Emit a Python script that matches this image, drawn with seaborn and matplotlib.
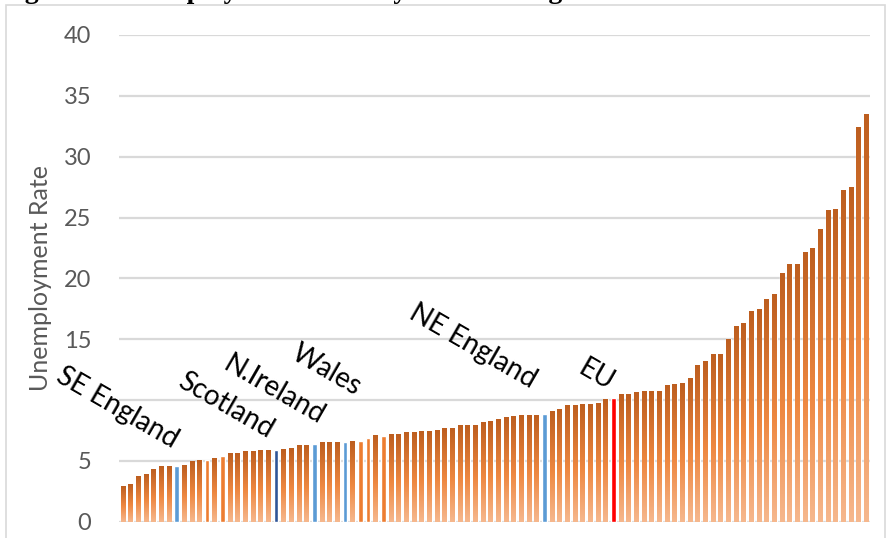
import numpy as np
import pandas as pd
import matplotlib
matplotlib.use("Agg")
import matplotlib.pyplot as plt
import seaborn as sns
from matplotlib.colors import LinearSegmentedColormap
from matplotlib.patches import Rectangle

# ---------------- data ----------------
rates = [
    2.88, 3.12, 3.70, 3.94, 4.35, 4.58, 4.58, 4.58, 4.68, 4.99,
    5.07, 5.07, 5.23, 5.42, 5.59, 5.67, 5.81, 5.81, 5.89, 5.89,
    5.89, 5.97, 6.06, 6.25, 6.25, 6.38, 6.55, 6.55, 6.55, 6.55,
    6.63, 6.63, 6.88, 7.12, 7.05, 7.23, 7.23, 7.37, 7.37, 7.45,
    7.45, 7.53, 7.70, 7.70, 7.95, 7.95, 7.95, 8.19, 8.27, 8.44,
    8.60, 8.69, 8.77, 8.77, 8.77, 8.85, 9.10, 9.26, 9.59, 9.59,
    9.67, 9.67, 9.75, 10.08, 10.16, 10.49, 10.49, 10.66, 10.74, 10.74,
    10.74, 11.23, 11.32, 11.40, 11.81, 12.88, 13.20, 13.78, 13.78, 15.00,
    16.08, 16.33, 17.30, 17.46, 18.28, 18.72, 20.43, 21.17, 21.17, 22.16,
    22.49, 24.05, 25.60, 25.68, 27.24, 27.50, 32.43, 33.50,
]
regions = [f"R{i + 1:02d}" for i in range(len(rates))]

# highlighted regions (index in the sorted list -> group)
highlight = {
    7: "uk_label", 20: "uk_dark", 25: "uk_label", 29: "uk_label", 55: "uk_label",
    11: "uk_other", 13: "uk_other", 31: "uk_other", 32: "uk_other", 34: "uk_other",
    64: "eu",
}

label_texts = ["SE England", "Scotland", "N.Ireland", "Wales", "NE England", "EU"]
label_pos = [(-0.76, 9.34), (13.47, 9.59), (19.74, 10.82), (26.53, 12.47),
             (45.72, 14.44), (61.78, 12.05)]

# ---------------- style ----------------
group_colors = {
    "uk_label": "#5B9BD5",
    "uk_dark": "#2F5597",
    "uk_other": "#ED7D31",
    "eu": "#FF0000",
    "grad": "#ED7D31",
}
grad_cmap = LinearSegmentedColormap.from_list(
    "og", [(0.0, "#F6B88E"), (0.45, "#EE8841"), (1.0, "#BD5E1F")])

sns.set_theme(style="white")
plt.rcParams["font.family"] = ["Lato", "DejaVu Sans"]

W, H = 887, 538
fig = plt.figure(figsize=(W / 100, H / 100), dpi=100)
ax = fig.add_axes([119 / W, 1 - 521.7 / H, 751 / W, (521.7 - 35) / H])

df = pd.DataFrame({"region": regions, "rate": rates})
df["group"] = [highlight.get(i, "grad") for i in range(len(rates))]
palette = {r: group_colors[g] for r, g in zip(df["region"], df["group"])}

sns.barplot(data=df, x="region", y="rate", hue="region", palette=palette,
            order=regions, hue_order=regions, legend=False, width=0.6,
            saturation=1, ax=ax, zorder=2)

# gradient fill for the ordinary bars
grad = np.linspace(0, 1, 256).reshape(-1, 1)
for cont in ax.containers:
    for bar in cont:
        xc = bar.get_x() + bar.get_width() / 2
        i = int(round(xc))
        if df["group"].iloc[i] != "grad":
            continue
        x0, w, h = bar.get_x(), bar.get_width(), bar.get_height()
        ax.imshow(grad, extent=[x0, x0 + w, 0, h], origin="lower",
                  aspect="auto", cmap=grad_cmap, zorder=2.1,
                  interpolation="bilinear")

ax.set_xlim(-0.5, len(rates) - 0.5)
ax.set_ylim(0, 40)
ax.set_yticks(range(0, 41, 5))
ax.set_xticks([])
ax.set_xlabel("")
ax.grid(axis="y", color="#D9D9D9", linewidth=1.6)
ax.set_axisbelow(True)
for s in ax.spines.values():
    s.set_visible(False)
ax.tick_params(axis="y", length=0, pad=20, labelsize=17, labelcolor="#595959")
ax.set_ylabel("Unemployment Rate", fontsize=18, color="#595959", labelpad=8)

# the "10" tick label is hidden behind the "SE England" call-out in the reference
fig.canvas.draw()
for t in ax.get_yticklabels():
    if t.get_text() == "10":
        t.set_visible(False)

for txt, (x, y) in zip(label_texts, label_pos):
    ax.text(x, y, txt, rotation=-30, ha="center", va="center",
            rotation_mode="anchor", fontsize=20, color="black",
            clip_on=False, zorder=5)

# chart border and clipped caption above
fig.patches.append(Rectangle((6 / W, -0.1), 879 / W, 1.1 - 5 / H,
                             transform=fig.transFigure, fill=False,
                             edgecolor="#D9D9D9", linewidth=1.2))
fig.text(0.0, 1 + 2.0 / H, "Figure 1: Unemployment Rates by NUTS 1 Region",
         fontsize=20, fontweight="bold", family="Liberation Serif",
         ha="left", va="baseline", color="black")

fig.savefig("out.png", dpi=100)
